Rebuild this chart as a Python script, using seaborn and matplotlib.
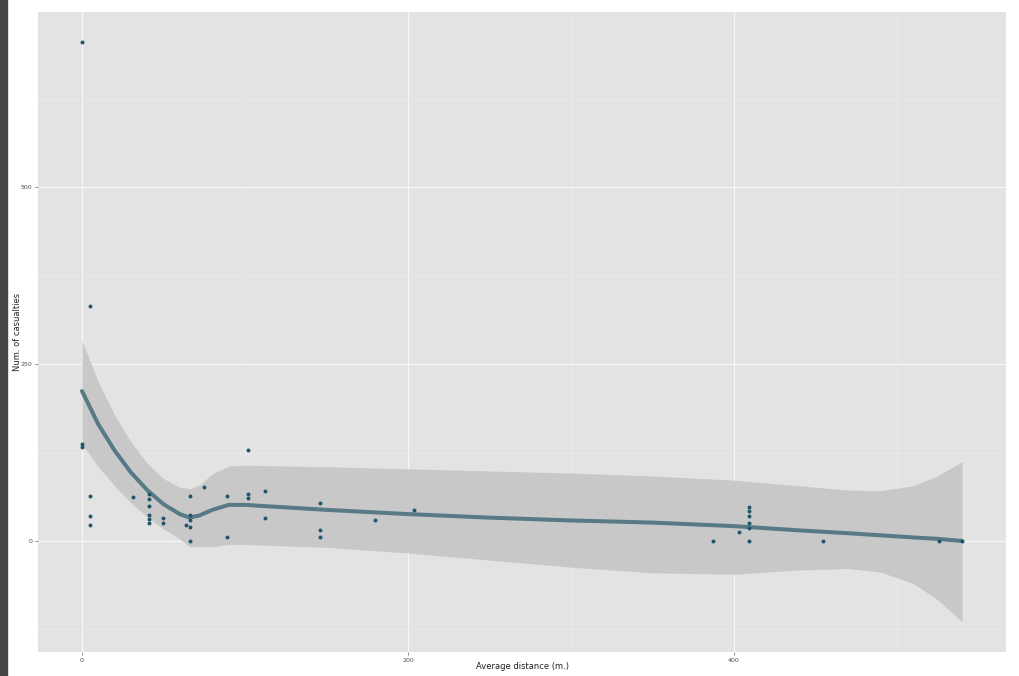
import matplotlib
matplotlib.use('Agg')
import matplotlib.pyplot as plt
from matplotlib.patches import Rectangle
from matplotlib.ticker import MultipleLocator
import seaborn as sns
import pandas as pd

# ─── Data ─────────────────────────────────────────────────────────────────────
distance   = [0, 0, 0, 5, 5, 5, 5, 31, 41, 41, 41, 41, 41, 41, 50, 50,
              66, 66, 66, 64, 66, 66, 75, 89, 89, 102, 102, 102, 112, 112,
              146, 146, 146, 180, 204, 387, 403, 409, 409, 409, 409, 409, 409,
              455, 526, 540]
casualties = [705, 137, 133, 332, 63, 35, 23, 62, 66, 59, 50, 37, 31, 26, 32, 25,
              63, 37, 30, 22, 20, 0, 76, 64, 6, 128, 67, 61, 71, 32,
              54, 15, 5, 30, 44, 0, 12, 48, 43, 35, 25, 18, 0,
              0, 0, 0]

# smoothed fit and its confidence band
fit_x     = [0, 10, 20, 30, 40, 50, 60, 66, 72, 80, 90, 100, 150, 200, 250,
             300, 350, 400, 440, 470, 490, 510, 525, 540]
fit_y     = [212, 165, 128, 97, 72, 52, 38, 33, 36, 44, 51, 51, 44, 38, 33,
             29, 26, 21, 15, 11, 8, 5, 3, 0]
fit_upper = [283, 225, 178, 140, 110, 88, 76, 74, 79, 95, 106, 107, 105, 102, 99,
             96, 92, 86, 78, 72, 71, 78, 92, 112]
fit_lower = [137, 105, 78, 54, 34, 17, 3, -8, -8, -8, -5, -5, -9, -17, -27,
             -37, -45, -47, -41, -39, -44, -60, -83, -114]

df  = pd.DataFrame({"distance": distance, "casualties": casualties})
fit = pd.DataFrame({"x": fit_x, "y": fit_y, "lo": fit_lower, "hi": fit_upper})

# ─── Style (ggplot-like grey panel) ───────────────────────────────────────────
PANEL = "#e3e3e3"
BAND  = "#c8c8c8"
LINE  = "#587a86"
PTS   = "#1f566a"
TXT   = "#4d4d4d"

sns.set_theme(style="darkgrid", rc={
    "axes.facecolor": PANEL, "figure.facecolor": "white",
    "grid.color": "white", "axes.edgecolor": PANEL,
    "xtick.color": "#7f7f7f", "ytick.color": "#7f7f7f",
})
plt.rcParams['font.family'] = ['DejaVu Sans']

fig = plt.figure(figsize=(10.19, 6.76), dpi=100)
ax = fig.add_axes([38 / 1019, 1 - 652 / 676, (1006 - 38) / 1019, (652 - 12) / 676])

ax.fill_between(fit["x"], fit["lo"], fit["hi"], color=BAND, lw=0, zorder=2)
sns.lineplot(data=fit, x="x", y="y", color=LINE, lw=2.9, ax=ax, zorder=3)
sns.scatterplot(data=df, x="distance", y="casualties", color=PTS, s=8,
                linewidth=0, ax=ax, zorder=4)

ax.set_xlim(-27, 567)
ax.set_ylim(-157, 748)
ax.xaxis.set_major_locator(MultipleLocator(200))
ax.xaxis.set_minor_locator(MultipleLocator(100))
ax.yaxis.set_major_locator(MultipleLocator(250))
ax.yaxis.set_minor_locator(MultipleLocator(125))
ax.grid(which="major", color="#f7f7f7", lw=0.9)
ax.grid(which="minor", color="#ececec", lw=0.5)
ax.tick_params(which="major", length=2.5, width=0.6, labelsize=4.5,
               labelcolor=TXT, pad=1.5, bottom=True, left=True)
ax.tick_params(which="minor", length=0)
for s in ax.spines.values():
    s.set_visible(False)

ax.set_xlabel("Average distance (m.)", fontsize=6, color="#222222")
ax.set_ylabel("Num. of casualties", fontsize=6, color="#222222")
ax.xaxis.set_label_coords(0.5, -10 / 640)
ax.yaxis.set_label_coords(-16 / 968, 0.5)

# dark strip at left edge of the screenshot
fig.patches.append(Rectangle((0, 0), 7 / 1019, 1, transform=fig.transFigure,
                             color="#444444", zorder=0))

fig.savefig("out.png", dpi=100)
